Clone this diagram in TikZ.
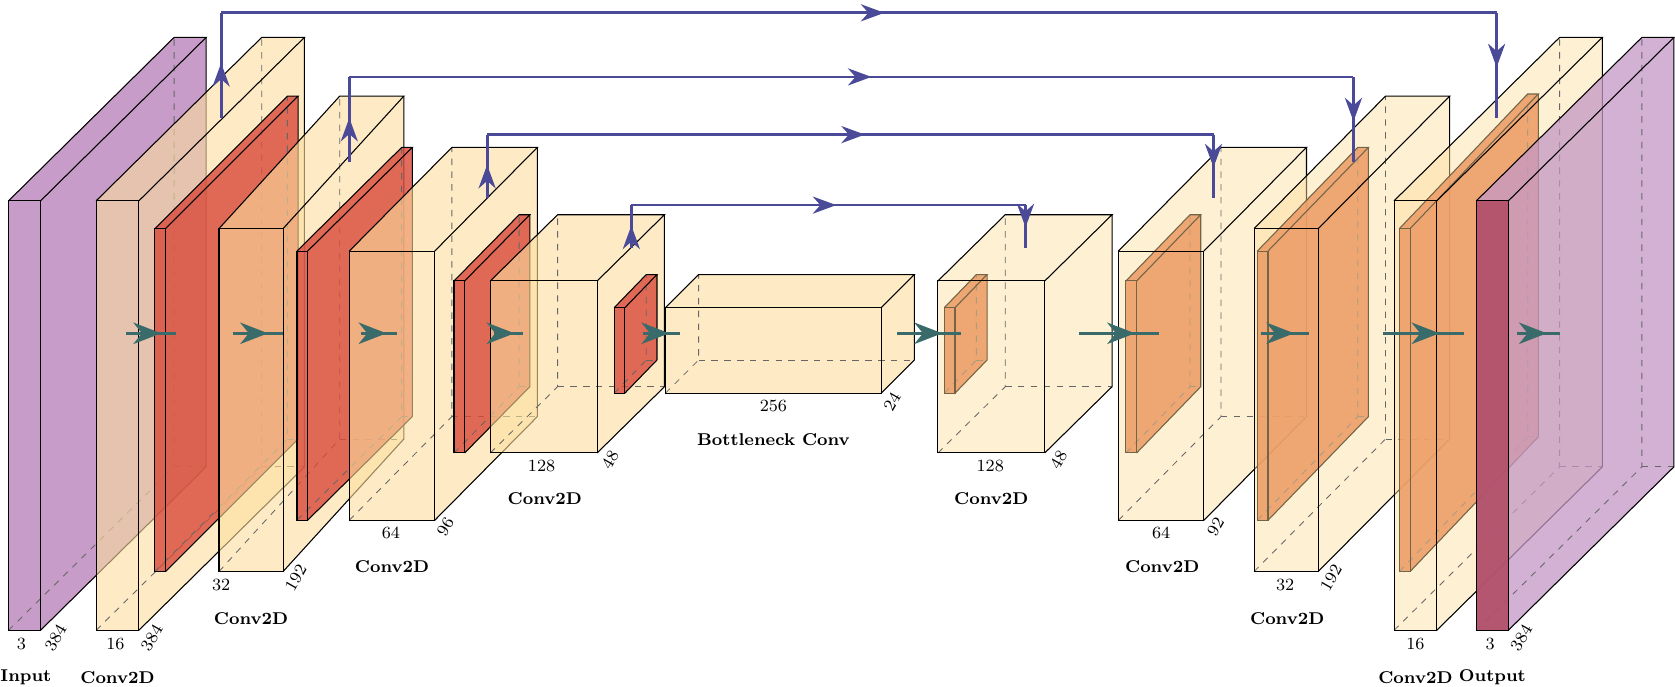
\documentclass[tikz,border=0pt]{standalone}
\usepackage{tikz}
\usetikzlibrary{arrows.meta,decorations.markings}
\definecolor{inputcol}{HTML}{C497C5}
\definecolor{convcol}{HTML}{FDDE9E}
\definecolor{poolcol}{HTML}{D9493A}
\definecolor{unpoolcol}{HTML}{E06A3C}
\definecolor{softcol}{HTML}{B24D66}
\definecolor{skipcol}{HTML}{4A4A98}
\definecolor{flowcol}{HTML}{3A6B6B}
\tikzset{
  edge/.style={draw=black,line width=0.5pt},
  hidden/.style={draw=black!60,dashed,line width=0.4pt},
  flow/.style={draw=flowcol,line width=1.6pt,postaction={decorate},
    decoration={markings,mark=at position 0.7 with {\arrow{Stealth[length=13pt,width=10pt,inset=4pt]}}}},
  skip/.style={draw=skipcol,line width=1.3pt,postaction={decorate},
    decoration={markings,mark=at position 0.52 with {\arrow{Stealth[length=11pt,width=8pt,inset=3.5pt]}}}},
  dimlabel/.style={font=\footnotesize},
  namelabel/.style={font=\footnotesize\bfseries},
}
% box: x, y, width, height, dx, dy, colour, opacity
\newcommand{\layerbox}[8]{%
  \fill[#7,fill opacity=#8] (#1,{#2+#4}) -- (#1,#2) -- ({#1+#5},{#2+#6}) -- ({#1+#3+#5},{#2+#6})
     -- ({#1+#3+#5},{#2+#4+#6}) -- ({#1+#3},{#2+#4}) -- cycle;
  \draw[hidden] (#1,{#2+#4}) -- ({#1+#5},{#2+#4+#6}) -- ({#1+#5},{#2+#6});
  \draw[hidden] ({#1+#5},{#2+#4+#6}) -- ({#1+#3+#5},{#2+#4+#6});
  \draw[edge] (#1,#2) rectangle ({#1+#3},{#2+#4});
  \draw[edge] (#1,#2) -- ({#1+#5},{#2+#6}) -- ({#1+#3+#5},{#2+#6}) -- ({#1+#3},#2);
  \draw[edge] ({#1+#3+#5},{#2+#6}) -- ({#1+#3+#5},{#2+#4+#6}) -- ({#1+#3},{#2+#4});
}
\begin{document}
\begin{tikzpicture}[x=0.5pt,y=-0.5pt]
\useasboundingbox (0,0) rectangle (1568,643);
%encoder
\layerbox{8}{188}{30}{402}{155}{-153}{inputcol}{0.95}
\layerbox{90}{188}{40}{402}{155}{-153}{convcol}{0.6}
\layerbox{145}{214}{10}{321}{124}{-124}{poolcol}{0.8}
\layerbox{205}{214}{60}{321}{113}{-124}{convcol}{0.6}
\layerbox{278}{235}{10}{252}{98}{-97}{poolcol}{0.8}
\layerbox{327}{235}{80}{252}{96}{-97}{convcol}{0.6}
\layerbox{425}{263}{10}{161}{61}{-62}{poolcol}{0.8}
\layerbox{459}{263}{100}{161}{63}{-62}{convcol}{0.6}
\layerbox{575}{288}{10}{80}{30}{-31}{poolcol}{0.8}
%bottleneck
\layerbox{623}{288}{202}{80}{31}{-31}{convcol}{0.6}
%decoder
\layerbox{884}{288}{10}{80}{30}{-31}{unpoolcol}{0.9}
\layerbox{878}{263}{100}{161}{63}{-62}{convcol}{0.45}
\layerbox{1054}{263}{10}{161}{60}{-62}{unpoolcol}{0.9}
\layerbox{1047}{235}{80}{252}{96}{-97}{convcol}{0.45}
\layerbox{1177}{235}{10}{252}{94}{-97}{unpoolcol}{0.9}
\layerbox{1174}{214}{60}{321}{123}{-124}{convcol}{0.45}
\layerbox{1310}{214}{10}{321}{120}{-126}{unpoolcol}{0.9}
\layerbox{1305}{188}{40}{402}{155}{-153}{convcol}{0.45}
\layerbox{1382}{188}{30}{402}{155}{-153}{inputcol}{0.75}
\fill[softcol,fill opacity=0.9] (1382,188) rectangle (1412,590);
\draw[edge] (1382,188) rectangle (1412,590);
%flow arrows
\foreach \a/\b in {118/165,218/265,338/372,462/490,602/637,840/900,1010/1085,1180/1225,1295/1370,1420/1460}
  \draw[flow] (\a,312) -- (\b,312);
%skip connections
\coordinate (s1a) at (207,110); \coordinate (s1b) at (207,12);
\coordinate (s1c) at (1401,12); \coordinate (s1d) at (1401,110);
\coordinate (s2a) at (327,152); \coordinate (s2b) at (327,72);
\coordinate (s2c) at (1267,72); \coordinate (s2d) at (1267,152);
\coordinate (s3a) at (456,185); \coordinate (s3b) at (456,126);
\coordinate (s3c) at (1136,126); \coordinate (s3d) at (1136,185);
\coordinate (s4a) at (591,232); \coordinate (s4b) at (591,192);
\coordinate (s4c) at (960,192); \coordinate (s4d) at (960,232);
\foreach \s in {s1,s2,s3,s4}{
  \draw[skip] (\s a) -- (\s b);
  \draw[skip] (\s b) -- (\s c);
  \draw[skip] (\s c) -- (\s d);
}
%Text
\node[dimlabel] (d1) at (20,603) {3};
\node[dimlabel,rotate=60] (d2) at (52,597) {384};
\node[dimlabel] (d3) at (108,603) {16};
\node[dimlabel,rotate=60] (d4) at (142,597) {384};
\node[dimlabel] (d5) at (207,548) {32};
\node[dimlabel,rotate=60] (d6) at (277,541) {192};
\node[dimlabel] (d7) at (366,499) {64};
\node[dimlabel,rotate=60] (d8) at (417,493) {96};
\node[dimlabel] (d9) at (507,436) {128};
\node[dimlabel,rotate=60] (d10) at (571,430) {48};
\node[dimlabel] (d11) at (724,380) {256};
\node[dimlabel,rotate=60] (d12) at (835,376) {24};
\node[dimlabel] (d13) at (927,436) {128};
\node[dimlabel,rotate=60] (d14) at (991,430) {48};
\node[dimlabel] (d15) at (1087,499) {64};
\node[dimlabel,rotate=60] (d16) at (1138,493) {92};
\node[dimlabel] (d17) at (1203,548) {32};
\node[dimlabel,rotate=60] (d18) at (1246,541) {192};
\node[dimlabel] (d19) at (1325,603) {16};
\node[dimlabel] (d20) at (1395,603) {3};
\node[dimlabel,rotate=60] (d21) at (1424,597) {384};
\node[namelabel,anchor=west,inner sep=0pt] (n1) at (0,634) {Input};
\node[namelabel] (n2) at (110,634) {Conv2D};
\node[namelabel] (n3) at (235,579) {Conv2D};
\node[namelabel] (n4) at (367,530) {Conv2D};
\node[namelabel] (n5) at (510,467) {Conv2D};
\node[namelabel] (n6) at (724,412) {Bottleneck Conv};
\node[namelabel] (n7) at (928,467) {Conv2D};
\node[namelabel] (n8) at (1088,530) {Conv2D};
\node[namelabel] (n9) at (1205,579) {Conv2D};
\node[namelabel] (n10) at (1325,634) {Conv2D};
\node[namelabel] (n11) at (1397,634) {Output};
\end{tikzpicture}
\end{document}
